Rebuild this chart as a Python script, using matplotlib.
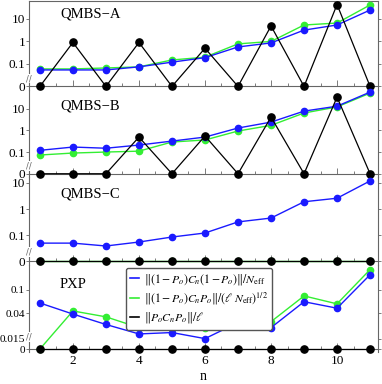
import numpy as np
import matplotlib
matplotlib.use('Agg')
import matplotlib.pyplot as plt
from matplotlib.lines import Line2D
from matplotlib.ticker import FixedLocator, NullLocator, MultipleLocator
import matplotlib.transforms as mtransforms

plt.rcParams['font.family'] = ['Liberation Serif', 'DejaVu Serif']
plt.rcParams['mathtext.fontset'] = 'stix'

n = np.arange(1, 12)

# QMBS-A
a_blue = [0.054, 0.054, 0.054, 0.074, 0.12, 0.19, 0.57, 0.86, 3.2, 5.4, 25]
a_green = [0.06, 0.06, 0.066, 0.074, 0.15, 0.2, 0.78, 1.0, 5.4, 6.6, 42]
a_black = [0, 0.9, 0, 0.9, 0, 0.5, 0, 4.9, 0, 44, 0]
# QMBS-B
b_blue = [0.12, 0.17, 0.15, 0.21, 0.32, 0.49, 1.28, 2.4, 7.7, 13, 58]
b_green = [0.073, 0.09, 0.1, 0.11, 0.29, 0.36, 0.93, 1.7, 6.3, 12, 52]
b_black = [0, 0, 0, 0.49, 0, 0.55, 0, 4.1, 0, 34, 0]
# QMBS-C
c_blue = [0.049, 0.049, 0.038, 0.054, 0.084, 0.12, 0.32, 0.45, 1.9, 2.6, 12]
c_green = [0] * 11
c_black = [0] * 11
# PXP
p_blue = [0.06, 0.039, 0.026, 0.018, 0.019, 0.015, 0.028, 0.023, 0.063, 0.049, 0.18]
p_green = [0, 0.044, 0.035, 0.023, 0.022, 0.023, 0.035, 0.029, 0.079, 0.058, 0.22]
p_black = [0] * 11

panels = [
    ('QMBS\u2212A', a_blue, a_green, a_black, [0, 0.1, 1, 10], ['0', '0.1', '1', '10'], (-2.16, 1.8)),
    ('QMBS\u2212B', b_blue, b_green, b_black, [0, 0.1, 1, 10], ['0', '0.1', '1', '10'], (-2.15, 1.86)),
    ('QMBS\u2212C', c_blue, c_green, c_black, [0, 0.1, 1, 10], ['0', '0.1', '1', '10'], (-2.15, 1.23)),
    ('PXP', p_blue, p_green, p_black, [0, 0.015, 0.04, 0.1], ['0', '0.015', '0.04', '0.1'], (-2.05, -0.58)),
]
# pixel extents (top, bottom) of each panel
extents = [(1, 90), (90, 177), (177, 265), (265, 352)]

ZERO_POS = -2.0


def fwd(v):
    v = np.asarray(v, dtype=float)
    safe = np.where(v > 0, v, 1.0)
    return np.where(v > 0, np.log10(safe), ZERO_POS)


def inv(y):
    return 10.0 ** np.asarray(y, dtype=float)


W, H = 382, 384
fig = plt.figure(figsize=(W / 100, H / 100), dpi=100)
spine_col = '#666666'
blue = '#1a1aff'
green = '#33ee33'

axes = []
for i, (name, yb, yg, yk, ticks, labels, lim) in enumerate(panels):
    top, bot = extents[i]
    ax = fig.add_axes([29 / W, 1 - bot / H, (378 - 29) / W, (bot - top) / H])
    ax.set_yscale('function', functions=(fwd, inv))
    ax.plot(n, yg, color=green, lw=1.0, marker='o', ms=4.5, zorder=3, clip_on=False)
    ax.plot(n, yb, color=blue, lw=1.0, marker='o', ms=4.5, zorder=4, clip_on=False)
    ax.plot(n, yk, color='black', lw=0.9, marker='o', ms=5.2, zorder=5, clip_on=False)
    ax.set_ylim(10 ** lim[0], 10 ** lim[1])
    ax.set_xlim(0.67, 11.24)
    ax.patch.set_alpha(0)

    ax.yaxis.set_major_locator(FixedLocator(ticks))
    ax.yaxis.set_minor_locator(NullLocator())
    ax.set_yticklabels(labels)
    ax.tick_params(axis='y', which='major', direction='out', length=2.5, width=0.6,
                   color=spine_col, labelsize=9.5 if i < 3 else 8.2, pad=0.3, right=True)
    ax.xaxis.set_major_locator(MultipleLocator(2))
    ax.xaxis.set_minor_locator(MultipleLocator(0.5))
    ax.tick_params(axis='x', which='both', direction='in', color=spine_col, width=0.6,
                   labelsize=9.5, pad=4)
    ax.tick_params(axis='x', which='major', length=4)
    ax.tick_params(axis='x', which='minor', length=2)
    if i < 3:
        ax.tick_params(axis='x', labelbottom=False)

    for s in ax.spines.values():
        s.set_color(spine_col)
        s.set_linewidth(0.8)
    ax.spines['bottom'].set_position(('data', 0.0))
    ax.spines['top'].set_visible(i == 0)

    # axis break mark on the left frame
    trans = mtransforms.blended_transform_factory(ax.transAxes, ax.transData)
    ax.text(0.0, 10 ** (ZERO_POS + 0.35 if i < 3 else ZERO_POS + 0.2), '//', transform=trans,
            ha='center', va='center', fontsize=6, color=spine_col, family='DejaVu Sans',
            bbox=dict(fc='white', ec='none', pad=0.3), zorder=10, clip_on=False)

    axes.append(ax)

label_y = [14, 106, 194, 285]
for (name, *_), y in zip(panels, label_y):
    fig.text(60 / W, 1 - y / H, name, fontsize=10.5, va='center', ha='left')

fig.text(203 / W, 1 - 376 / H, 'n', fontsize=10, ha='center', va='center')

handles = [
    Line2D([], [], color=blue, lw=1.2),
    Line2D([], [], color=green, lw=1.2),
    Line2D([], [], color='black', lw=1.2),
]
texts = [
    r'$\Vert(1-P_o)C_n(1-P_o)\Vert/N_{\rm eff}$',
    r'$\Vert(1-P_o)C_nP_o\Vert/(\ell\ N_{\rm eff})^{1/2}$',
    r'$\Vert P_oC_nP_o\Vert/\ell$',
]
leg = axes[-1].legend(handles, texts, loc='upper left',
                      bbox_to_anchor=(120 / W, 1 - 262 / H), bbox_transform=fig.transFigure,
                      fontsize=8.5, handlelength=0.8, handletextpad=0.4, labelspacing=0.3,
                      borderpad=0.35, framealpha=1, fancybox=True, edgecolor='#555555')
leg.set_zorder(20)

fig.savefig('out.png', dpi=100)
